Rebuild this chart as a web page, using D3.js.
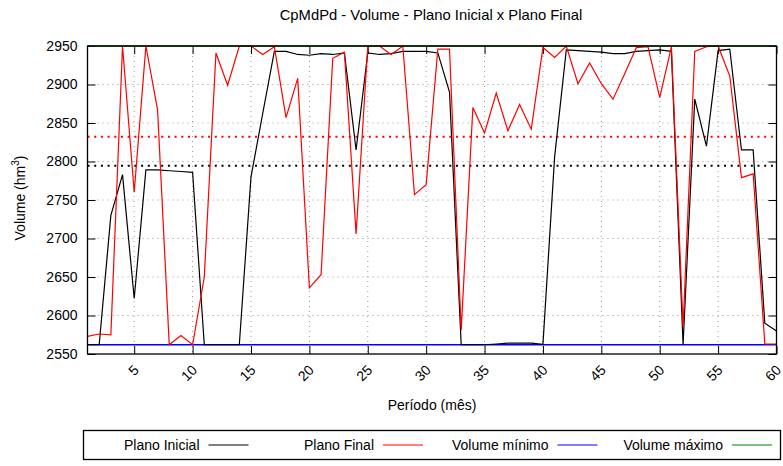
<!DOCTYPE html>
<html><head><meta charset="utf-8">
<script src="https://cdn.jsdelivr.net/npm/d3@7"></script>
<style>
body{margin:0;background:#fff;}
text{font-family:"Liberation Sans",Arial,Helvetica,sans-serif;fill:#000;}
</style></head>
<body><svg id="c" width="783" height="466"></svg>
<script>
const months = d3.range(1, 61);
const planoInicial = [2562,2562,2730,2783,2622,2789,2789,2788,2787,2786,
2562,2562,2562,2562,2780,2862,2943,2943,2939,2938,
2940,2939,2941,2815,2941,2939,2940,2943,2943,2943,
2941,2890,2562,2562,2562,2563,2564,2564,2564,2562.5,
2806,2945,2944,2943,2942,2940,2940,2943,2944,2945,
2943,2562,2881,2820,2944,2946,2815,2815,2590,2580];
const planoFinal = [2573,2576,2575,2950,2760,2950,2867,2562,2574,2562,
2650,2941,2899,2950,2950,2939,2949,2857,2908,2636,
2653,2934,2942,2706,2950,2950,2939,2950,2757,2770,
2946,2946,2581,2870,2837,2889,2840,2874,2842,2948,
2935,2950,2901,2928,2901,2881,2914,2948,2949,2883,
2949,2585,2943,2949,2950,2911,2779,2784,2563,2563];
const volumeMinimo = 2562;
const volumeMaximo = 2950;
const mediaInicial = 2794.5;
const mediaFinal = 2832;
const yTicks = [2550,2600,2650,2700,2750,2800,2850,2900,2950];
const xTicks = [5,10,15,20,25,30,35,40,45,50,55,60];
const legendLabels = ["Plano Inicial","Plano Final","Volume mínimo","Volume máximo"];
const legendColors = ["#000000","#ff0000","#0000ff","#008000"];

const L=87.5, R=776.5, T=46, B=354;
const svg = d3.select("#c");
const x = d3.scaleLinear().domain([1,60]).range([L,R]);
const y = d3.scaleLinear().domain([2550,2950]).range([B,T]);

// grid
const g = svg.append("g");
g.selectAll(".gy").data(yTicks.filter(v=>v>2550&&v<2950)).join("line")
 .attr("x1",L).attr("x2",R).attr("y1",d=>y(d)).attr("y2",d=>y(d))
 .attr("stroke","#999").attr("stroke-width",1).attr("stroke-dasharray","1,4");
g.selectAll(".gx").data(xTicks.filter(v=>v<60)).join("line")
 .attr("y1",T).attr("y2",B).attr("x1",d=>x(d)).attr("x2",d=>x(d))
 .attr("stroke","#999").attr("stroke-width",1).attr("stroke-dasharray","1,4");

// axes via d3
const axL = svg.append("g").attr("transform",`translate(${L},0)`)
 .call(d3.axisLeft(y).tickValues(yTicks).tickSize(-8).tickPadding(10).tickFormat(d3.format("d")));
const axR = svg.append("g").attr("transform",`translate(${R},0)`)
 .call(d3.axisRight(y).tickValues(yTicks).tickSize(-8).tickFormat(""));
const axB = svg.append("g").attr("transform",`translate(0,${B})`)
 .call(d3.axisBottom(x).tickValues(xTicks).tickSize(-8).tickFormat(d3.format("d")));
const axT = svg.append("g").attr("transform",`translate(0,${T})`)
 .call(d3.axisTop(x).tickValues(xTicks).tickSize(-8).tickFormat(""));
[axL,axR,axB,axT].forEach(a=>{a.select(".domain").remove();a.selectAll("line").attr("stroke","#000").attr("stroke-width",1);});
axL.selectAll("text").attr("font-size",14).attr("font-family","Liberation Sans, Arial, sans-serif");
axB.selectAll("text").attr("font-size",14).attr("font-family","Liberation Sans, Arial, sans-serif")
 .attr("text-anchor","end").attr("dy",null).attr("y",0)
 .attr("transform","translate(5,17) rotate(-45)");

// mean lines
svg.append("line").attr("x1",L).attr("x2",R).attr("y1",y(mediaFinal)).attr("y2",y(mediaFinal))
 .attr("stroke","#ff0000").attr("stroke-width",2).attr("stroke-dasharray","2,4.7");
svg.append("line").attr("x1",L).attr("x2",R).attr("y1",y(mediaInicial)).attr("y2",y(mediaInicial))
 .attr("stroke","#000").attr("stroke-width",2).attr("stroke-dasharray","2,4.7");

// min/max
svg.append("line").attr("x1",L).attr("x2",R).attr("y1",y(volumeMinimo)).attr("y2",y(volumeMinimo))
 .attr("stroke","#0000ff").attr("stroke-width",1.3);

const line = d3.line().x((d,i)=>x(months[i])).y(d=>y(d));
svg.append("path").datum(planoInicial).attr("d",line).attr("fill","none").attr("stroke","#000").attr("stroke-width",1.2);
svg.append("path").datum(planoFinal).attr("d",line).attr("fill","none").attr("stroke","#ff0000").attr("stroke-width",1.2);

svg.append("line").attr("x1",L).attr("x2",R).attr("y1",y(volumeMaximo)).attr("y2",y(volumeMaximo))
 .attr("stroke","#006000").attr("stroke-width",1.5);

// border
svg.append("rect").attr("x",L).attr("y",T).attr("width",R-L).attr("height",B-T)
 .attr("fill","none").attr("stroke","#000").attr("stroke-width",1.3);

// title & labels
svg.append("text").attr("x",(L+R)/2 - 1).attr("y",20).attr("text-anchor","middle").attr("font-size",14.8)
 .text("CpMdPd - Volume - Plano Inicial x Plano Final");
const yl = svg.append("text").attr("transform","translate(25,198) rotate(-90)").attr("text-anchor","middle").attr("font-size",14);
yl.append("tspan").text("Volume (hm");
yl.append("tspan").attr("dy",-6).attr("font-size",10).text("3");
yl.append("tspan").attr("dy",6).text(")");
svg.append("text").attr("x",(L+R)/2).attr("y",410).attr("text-anchor","middle").attr("font-size",14)
 .text("Período (mês)");

// legend
svg.append("rect").attr("x",83.5).attr("y",430.5).attr("width",697).attr("height",29)
 .attr("fill","none").attr("stroke","#000").attr("stroke-width",1.3);
const lg = svg.append("g").selectAll("g").data(legendLabels).join("g")
 .attr("transform",(d,i)=>`translate(${83.5+i*174.5},0)`);
lg.append("text").attr("x",116).attr("y",450).attr("text-anchor","end").attr("font-size",14).text(d=>d);
lg.append("line").attr("x1",125).attr("x2",165).attr("y1",445).attr("y2",445)
 .attr("stroke",(d,i)=>legendColors[i]).attr("stroke-width",1.2);
</script></body></html>
